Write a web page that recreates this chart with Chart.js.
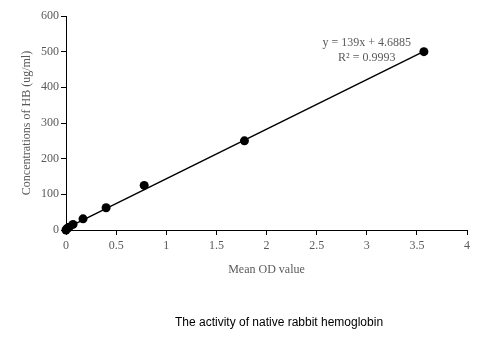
<!DOCTYPE html>
<html>
<head>
<meta charset="utf-8">
<script src="https://cdn.jsdelivr.net/npm/chart.js@4/dist/chart.umd.min.js"></script>
<style>
  html, body { margin: 0; padding: 0; background: #ffffff; }
  #wrap { position: relative; width: 493px; height: 345px; }
</style>
</head>
<body>
<div id="wrap"><canvas id="c" width="493" height="345"></canvas></div>
<script>
// Data
const odValues = [0, 0.01, 0.03, 0.07, 0.17, 0.40, 0.78, 1.78, 3.57];
const hbConcentrations = [0, 3.9, 7.8, 15.6, 31.25, 62.5, 125, 250, 500];
const trendOD = [0, 3.57];
const trendHB = [4.69, 500.9];
const xTicksMax = 4;
const yTicksMax = 600;
const equationLines = ['y = 139x + 4.6885', 'R\u00B2 = 0.9993'];
const xAxisTitle = 'Mean OD value';
const yAxisTitle = 'Concentrations of HB (ug/ml)';
const chartTitle = 'The activity of native rabbit hemoglobin';

const GRAY = '#5a5a5a';
const SERIF = "'Liberation Serif', 'DejaVu Serif', serif";
const SANS = "'Liberation Sans', Arial, sans-serif";

const pointsData = odValues.map((x, i) => ({ x: x, y: hbConcentrations[i] }));
const trendData = trendOD.map((x, i) => ({ x: x, y: trendHB[i] }));

const textPlugin = {
  id: 'extraText',
  afterDraw(chart) {
    const ctx = chart.ctx;
    const xs = chart.scales.x, ys = chart.scales.y;
    ctx.save();
    ctx.fillStyle = GRAY;
    ctx.font = '12px ' + SERIF;
    ctx.textAlign = 'center';
    ctx.textBaseline = 'middle';
    const ex = xs.getPixelForValue(3.0);
    ctx.fillText(equationLines[0], ex, ys.getPixelForValue(524));
    ctx.fillText(equationLines[1], ex, ys.getPixelForValue(482));
    ctx.fillStyle = '#000000';
    ctx.font = '12px ' + SANS;
    ctx.fillText(chartTitle, 279, 323);
    ctx.restore();
  }
};

new Chart(document.getElementById('c'), {
  type: 'scatter',
  data: {
    datasets: [
      {
        label: 'trend',
        data: trendData,
        showLine: true,
        borderColor: '#000000',
        borderWidth: 1.5,
        pointRadius: 0,
        fill: false,
        clip: false
      },
      {
        label: 'HB',
        data: pointsData,
        showLine: false,
        backgroundColor: '#000000',
        borderColor: '#000000',
        pointRadius: 4.5,
        pointBorderWidth: 0,
        clip: false
      }
    ]
  },
  options: {
    responsive: false,
    animation: false,
    devicePixelRatio: 1,
    layout: { padding: { left: 16, right: 26, top: 16, bottom: 64 } },
    plugins: {
      legend: { display: false },
      tooltip: { enabled: false },
      title: { display: false }
    },
    scales: {
      x: {
        type: 'linear',
        min: 0,
        max: xTicksMax,
        afterFit(s) { s.height = 51; },
        border: { display: true, color: '#000000', width: 1 },
        grid: { display: true, drawOnChartArea: false, drawTicks: true, tickLength: 5, color: '#000000' },
        ticks: {
          stepSize: 0.5, color: GRAY, font: { family: SERIF, size: 12 }, padding: 4, maxRotation: 0,
          callback: (v) => String(Math.round(v * 10) / 10)
        },
        title: { display: true, text: xAxisTitle, color: GRAY, font: { family: SERIF, size: 12 }, padding: { top: 4, bottom: 4 } }
      },
      y: {
        type: 'linear',
        min: 0,
        max: yTicksMax,
        afterFit(s) { s.width = 50; },
        border: { display: true, color: '#000000', width: 1 },
        grid: { display: true, drawOnChartArea: false, drawTicks: true, tickLength: 5, color: '#000000' },
        ticks: { stepSize: 100, color: GRAY, font: { family: SERIF, size: 12 }, padding: 2 },
        title: { display: true, text: yAxisTitle, color: GRAY, font: { family: SERIF, size: 12 }, padding: { top: 4, bottom: 4 } }
      }
    }
  },
  plugins: [textPlugin]
});
</script>
</body>
</html>
